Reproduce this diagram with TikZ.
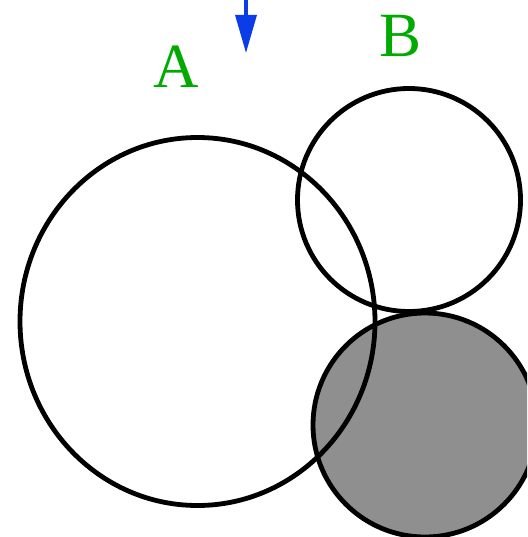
\documentclass[tikz,border=0pt]{standalone}
\usepackage{fontspec}
\setmainfont{Liberation Serif}
\usetikzlibrary{arrows.meta}
\definecolor{labgreen}{RGB}{0,170,0}
\definecolor{arrblue}{RGB}{10,60,232}
\definecolor{shade}{RGB}{143,143,143}
\begin{document}
\begin{tikzpicture}[x=1pt,y=-1pt,
  ring/.style={draw=black,line width=4.8pt},
  lab/.style={text=labgreen,font=\fontsize{63}{63}\selectfont,inner sep=0pt,anchor=base}]
\useasboundingbox (0,0) rectangle (527,537);
\begin{scope}
\clip (0,0) rectangle (527,537);
\draw[ring,fill=shade] (425,425) circle (112);
\end{scope}
\draw[ring] (197.5,321.5) ellipse [x radius=177.5, y radius=184];
\draw[ring] (409,200) circle (111.5);
\node[lab] (A) at (176,88) {A};
\node[lab] (B) at (401,57) {B};
\coordinate (s) at (246,0);
\coordinate (t) at (246,53);
\draw[arrblue,line width=3.3pt,-{Triangle[length=38pt,width=21pt]}] (s) -- (t);
\end{tikzpicture}
\end{document}
